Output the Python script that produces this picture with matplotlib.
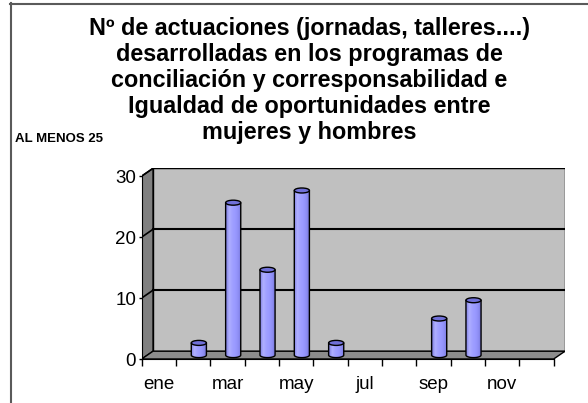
import numpy as np
import matplotlib
matplotlib.use('Agg')
from matplotlib import pyplot as plt
from matplotlib.patches import Polygon, Ellipse
from matplotlib.colors import LinearSegmentedColormap
from matplotlib.lines import Line2D

plt.rcParams['font.family'] = ['Liberation Sans', 'DejaVu Sans']

# datos
meses = ['ene', 'feb', 'mar', 'abr', 'may', 'jun', 'jul', 'ago', 'sep', 'oct', 'nov', 'dic']
actuaciones = [0, 2, 25, 14, 27, 2, 0, 0, 6, 9, 0, 0]
etiquetas_x = ['ene', '', 'mar', '', 'may', '', 'jul', '', 'sep', '', 'nov', '']
ticks_y = [0, 10, 20, 30]
titulo = [
    'Nº de actuaciones (jornadas, talleres....)',
    'desarrolladas en los programas de',
    'conciliación y corresponsabilidad e',
    'Igualdad de oportunidades entre',
    'mujeres y hombres',
]
nota = 'AL MENOS 25'

W, H = 588, 403
fig = plt.figure(figsize=(W / 100, H / 100), dpi=100)
fig.patch.set_facecolor('white')

n = len(meses)
ymax = ticks_y[-1]
DX, DY = 0.33, 1.28   # profundidad del efecto 3D (en unidades de datos)

ax = fig.add_axes([141.7 / W, (H - 359) / H, 423.3 / W, 190.7 / H])
ax.patch.set_visible(False)

# paredes y suelo
lado = Polygon([(0, 0), (DX, DY), (DX, ymax + DY), (0, ymax)], closed=True,
               facecolor='#808080', edgecolor='black', lw=1, zorder=1)
suelo = Polygon([(0, 0), (n, 0), (n + DX, DY), (DX, DY)], closed=True,
                facecolor='#8c8c8c', edgecolor='black', lw=1, zorder=1)
fondo = Polygon([(DX, DY), (n + DX, DY), (n + DX, ymax + DY), (DX, ymax + DY)], closed=True,
                facecolor='#c0c0c0', edgecolor='black', lw=1, zorder=1)
for p in (fondo, lado, suelo):
    ax.add_patch(p)

for v in ticks_y[1:]:
    ax.plot([DX, n + DX], [v + DY, v + DY], color='black', lw=1.5, zorder=2)
    ax.plot([0, DX], [v, v + DY], color='black', lw=1.2, zorder=2)

# cilindros
cmap = LinearSegmentedColormap.from_list(
    'cil', ['#8080e0', '#b0b0ff', '#a0a0ff', '#9999ff', '#8c8cf2', '#7070d0'])
grad = np.linspace(0, 1, 64).reshape(1, -1)
r = 0.22
eh = 0.82
t = np.linspace(np.pi, 2 * np.pi, 40)
for i, v in enumerate(actuaciones):
    if v == 0:
        continue
    cx = i + 0.5 + DX / 2
    y0 = DY / 2
    y1 = v + DY / 2
    pts = [(cx - r, y1)] + list(zip(cx + r * np.cos(t), y0 + eh / 2 * np.sin(t))) + [(cx + r, y1)]
    cuerpo = Polygon(pts, closed=True, facecolor='none', edgecolor='black', lw=1, zorder=4)
    ax.add_patch(cuerpo)
    im = ax.imshow(grad, cmap=cmap, extent=(cx - r, cx + r, y0 - eh / 2, y1),
                   aspect='auto', zorder=3, interpolation='bilinear')
    im.set_clip_path(cuerpo)
    ax.add_patch(Ellipse((cx, y1), 2 * r, eh, facecolor='#7070d8',
                         edgecolor='black', lw=1, zorder=5))

ax.set_xlim(0, n + DX)
ax.set_ylim(0, ymax + DY)

# ejes
for s in ('top', 'right'):
    ax.spines[s].set_visible(False)
ax.spines['left'].set_bounds(0, ymax)
ax.spines['bottom'].set_bounds(0, n)
ax.spines['left'].set_zorder(6)
ax.spines['bottom'].set_zorder(6)

ax.set_xticks(range(n + 1))
ax.set_xticklabels([])
ax.set_xticks(np.arange(n) + 0.5, minor=True)
ax.set_xticklabels(etiquetas_x, minor=True)
ax.tick_params(axis='x', which='major', direction='out', length=5, width=1)
ax.tick_params(axis='x', which='minor', length=0, pad=12, labelsize=13.5)

ax.set_yticks(ticks_y)
ax.set_yticklabels([str(v) for v in ticks_y])
ax.tick_params(axis='y', direction='out', length=2.5, width=1, pad=1.5, labelsize=13.5)

# titulo
base = 35
for k, linea in enumerate(titulo):
    fig.text(309.5 / W, 1 - (base + 26.1 * k) / H, linea, ha='center', va='baseline',
             fontsize=16.8, fontweight='bold')
fig.text(15 / W, 1 - 141.7 / H, nota, ha='left', va='baseline', fontsize=9.5, fontweight='bold')

# marco
fig.add_artist(Line2D([11 / W, 11 / W], [0, 1 - 3 / H], transform=fig.transFigure,
                      color='#5a5a5a', lw=1.5))
fig.add_artist(Line2D([10.3 / W, 1], [1 - 3.8 / H, 1 - 3.8 / H], transform=fig.transFigure,
                      color='#5a5a5a', lw=1.5))

fig.savefig('out.png', dpi=100)
